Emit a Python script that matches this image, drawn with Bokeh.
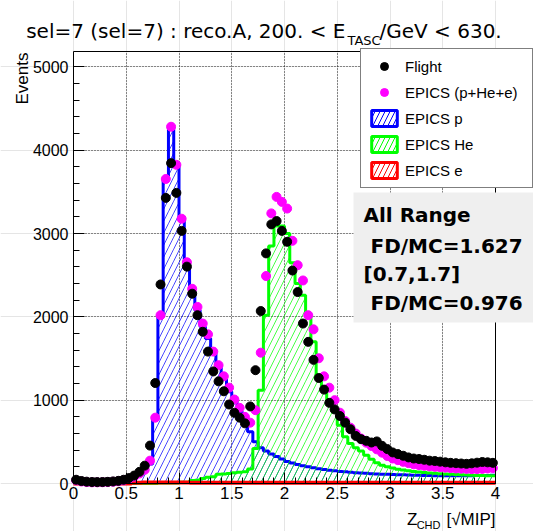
import numpy as np
from bokeh.plotting import figure
from bokeh.models import (Range1d, SingleIntervalTicker, FixedTicker, Label, BoxAnnotation,
                          Legend, LegendItem, LinearAxis, Grid)
from bokeh.embed import file_html
from bokeh.resources import INLINE

# ---------------- data ----------------
bin_width = 0.05
x_min, x_max = 0.0, 4.0
y_min, y_max = 0.0, 5185.0
edges = np.round(np.arange(x_min, x_max + bin_width / 2, bin_width), 4)
centers = (edges[:-1] + edges[1:]) / 2

flight = [45, 30, 22, 18, 17, 18, 20, 25, 32, 45,
          65, 95, 140, 214, 455, 1206, 2389, 3428, 3845, 3488,
          3032, 2603, 2278, 2020, 1821, 1583, 1345, 1226, 1107, 948,
          849, 790, 722, 925, 1360, 2070, 2762, 3110, 3150, 3032,
          2901, 2556, 2298, 1920, 1700, 1484, 1266, 1127, 968, 889,
          810, 730, 651, 571, 532, 512, 492, 505, 452, 413,
          373, 353, 333, 313, 300, 294, 285, 274, 270, 262,
          254, 248, 244, 240, 236, 242, 250, 258, 254, 248]

epics_sum = [38, 24, 17, 14, 14, 15, 17, 21, 27, 38,
             55, 82, 120, 165, 274, 790, 2020, 3655, 4282, 3825,
             3178, 2655, 2337, 2119, 1920, 1790, 1583, 1420, 1286, 1150,
             1008, 908, 800, 730, 880, 1570, 2490, 3242, 3440, 3380,
             3300, 2913, 2620, 2437, 2020, 1850, 1503, 1286, 1150, 1000,
             850, 750, 670, 600, 540, 490, 450, 410, 370, 330,
             300, 280, 260, 245, 230, 220, 212, 205, 200, 195,
             190, 185, 180, 178, 175, 172, 172, 175, 180, 185]

epics_p = [20, 14, 10, 8, 8, 9, 10, 13, 17, 25,
           40, 65, 100, 150, 234, 770, 2000, 3650, 4280, 3820,
           3170, 2640, 2310, 2080, 1880, 1740, 1560, 1420, 1250, 1100,
           990, 860, 740, 620, 500, 430, 390, 355, 325, 295,
           265, 245, 228, 212, 200, 190, 178, 168, 160, 152,
           145, 140, 135, 130, 126, 122, 118, 115, 112, 110,
           108, 106, 104, 102, 100, 98, 96, 95, 94, 93,
           92, 92, 92, 93, 93, 94, 95, 96, 97, 98]

epics_he = [0, 0, 0, 0, 0, 0, 0, 0, 0, 0,
            0, 0, 0, 0, 0, 0, 5, 5, 5, 5,
            15, 15, 36, 40, 60, 75, 80, 110, 115, 120,
            130, 135, 140, 175, 420, 1120, 2020, 2850, 3090, 3090,
            3000, 2650, 2400, 2260, 2000, 1700, 1300, 1150, 1000, 860,
            700, 560, 480, 430, 390, 340, 290, 250, 220, 200,
            185, 172, 162, 152, 145, 138, 132, 127, 122, 118,
            114, 110, 107, 104, 101, 99, 97, 95, 94, 93]

epics_e = [0, 0, 0, 0, 0, 0, 0, 0, 0, 0,
           0, 8, 10, 12, 12, 12, 12, 12, 12, 12,
           11, 11, 10, 10, 10, 10, 10, 10, 10, 10,
           10, 10, 10, 10, 10, 10, 10, 10, 10, 10,
           10, 10, 10, 10, 10, 10, 10, 10, 10, 10,
           10, 10, 10, 10, 10, 10, 10, 10, 10, 10,
           10, 10, 10, 10, 10, 10, 10, 10, 10, 10,
           10, 10, 10, 10, 10, 10, 10, 10, 10, 10]

x_tick_values = [0, 0.5, 1, 1.5, 2, 2.5, 3, 3.5, 4]
x_tick_labels = ["0", "0.5", "1", "1.5", "2", "2.5", "3", "3.5", "4"]
y_tick_step = 1000

legend_labels = ["Flight", "EPICS (p+He+e)", "EPICS p", "EPICS He", "EPICS e"]
title_main = "sel=7 (sel=7) : reco.A, 200. < E"
title_sub = "TASC"
title_tail = "/GeV < 630."
info_lines = ["All Range", "FD/MC=1.627", "[0.7,1.7]", "FD/MC=0.976"]

# ---------------- layout geometry (canvas px) ----------------
W, H = 533, 531
FL, FR, FT, FB = 73, 495, 51, 483          # plot-area edges
ppx = (FR - FL) / (x_max - x_min)
ppy = (FB - FT) / (y_max - y_min)

# the Bokeh frame spans the whole canvas so nothing gets clipped
p = figure(width=W, height=H,
           x_range=Range1d(x_min - FL / ppx, x_max + (W - FR) / ppx),
           y_range=Range1d(y_min - (H - FB) / ppy, y_max + FT / ppy),
           x_axis_location=None, y_axis_location=None,
           output_backend="svg", toolbar_location=None, title=None,
           min_border_left=0, min_border_right=0, min_border_top=0, min_border_bottom=0)
p.background_fill_color = "white"
p.border_fill_color = "white"
p.outline_line_color = None

xticker = SingleIntervalTicker(interval=0.5, num_minor_ticks=5)
yticker = SingleIntervalTicker(interval=y_tick_step, num_minor_ticks=5)

# ---- grid (dotted, limited to the plot area)
try:
    gx = Grid(dimension=0, ticker=xticker, bounds=(x_min, x_max), cross_bounds=(y_min, y_max))
    gy = Grid(dimension=1, ticker=yticker, bounds=(y_min, y_max), cross_bounds=(x_min, x_max))
    for g in (gx, gy):
        g.grid_line_color = "black"
        g.grid_line_dash = "1 2"
        g.grid_line_width = 1
        g.grid_line_alpha = 0.85
        p.add_layout(g)
except AttributeError:
    xs = [v for v in x_tick_values]
    ys = list(range(int(y_tick_step), int(y_max), int(y_tick_step)))
    p.segment(x0=xs, x1=xs, y0=y_min, y1=y_max, line_color="black", line_dash="1 2", line_alpha=0.85)
    p.segment(x0=x_min, x1=x_max, y0=ys, y1=ys, line_color="black", line_dash="1 2", line_alpha=0.85)


def hist(vals, color, lw):
    vals = np.asarray(vals, dtype=float)
    p.quad(left=edges[:-1], right=edges[1:], bottom=0, top=vals,
           fill_color=None, line_color=None,
           hatch_pattern="/", hatch_color=color, hatch_scale=12, hatch_weight=0.9, hatch_alpha=0.8)
    p.step(x=edges, y=np.append(vals, vals[-1]), mode="after",
           line_color=color, line_width=lw)
    # legend proxy (hatched box with thick border); NaN so it is never drawn in the plot
    return p.quad(left=[np.nan], right=[np.nan], bottom=[np.nan], top=[np.nan],
                  fill_color="white", line_color=color, line_width=3,
                  hatch_pattern="/", hatch_color=color, hatch_scale=10, hatch_weight=1)


r_p = hist(epics_p, "#0000ff", 3)
r_he = hist(epics_he, "#00ff00", 3)
r_e = hist(epics_e, "#ff0000", 4)

r_mc = p.scatter(x=centers, y=epics_sum, size=9, color="#ff00ff")
r_fd = p.scatter(x=centers, y=flight, size=9, color="black")

# ---- axes drawn at the plot-area edges with Bokeh's own axis model
xaxis = LinearAxis(fixed_location=y_min, bounds=(x_min, x_max), ticker=xticker)
yaxis = LinearAxis(fixed_location=x_min, bounds=(y_min, y_max), ticker=yticker)
xaxis.major_label_overrides = {float(v): t for v, t in zip(x_tick_values, x_tick_labels)}
for ax in (xaxis, yaxis):
    ax.axis_line_color = "black"
    ax.axis_line_width = 1
    ax.major_tick_line_color = "black"
    ax.minor_tick_line_color = "black"
    ax.major_tick_in = 11
    ax.major_tick_out = 0
    ax.minor_tick_in = 6
    ax.minor_tick_out = 0
    ax.major_label_text_font = "Liberation Sans"
    ax.major_label_text_color = "black"
xaxis.major_label_text_font_size = "17px"
yaxis.major_label_text_font_size = "16px"
xaxis.major_label_standoff = 3
yaxis.major_label_standoff = 5
p.add_layout(xaxis, "below")
p.add_layout(yaxis, "left")

# top / right frame edges
for loc, side, bnd in ((y_max, "above", (x_min, x_max)), (x_max, "right", (y_min, y_max))):
    fa = LinearAxis(fixed_location=loc, bounds=bnd, ticker=FixedTicker(ticks=[], minor_ticks=[]))
    fa.axis_line_color = "black"
    fa.major_label_text_alpha = 0
    p.add_layout(fa, side)

# ---- legend
legend = Legend(items=[LegendItem(label=legend_labels[0], renderers=[r_fd]),
                       LegendItem(label=legend_labels[1], renderers=[r_mc]),
                       LegendItem(label=legend_labels[2], renderers=[r_p]),
                       LegendItem(label=legend_labels[3], renderers=[r_he]),
                       LegendItem(label=legend_labels[4], renderers=[r_e])],
                location=(360, H - 188), orientation="vertical",
                glyph_width=32, glyph_height=20, label_height=20, label_standoff=5,
                label_width=120, spacing=6, padding=7, margin=0,
                border_line_color="black", border_line_width=1,
                background_fill_color="white", background_fill_alpha=1,
                label_text_font="Liberation Sans", label_text_font_size="15px",
                label_text_color="black")
p.add_layout(legend)

# ---- info box
p.add_layout(BoxAnnotation(left=353, right=W, bottom=H - 322, top=H - 192,
                           left_units="screen", right_units="screen",
                           bottom_units="screen", top_units="screen",
                           fill_color="#efefef", fill_alpha=1, line_color=None))
info_pos = [(363, 214), (370, 245), (363, 273), (370, 302)]
for txt, (cx, cy) in zip(info_lines, info_pos):
    p.add_layout(Label(x=cx, y=H - cy, x_units="screen", y_units="screen",
                       text=txt, text_font="DejaVu Sans", text_font_style="bold",
                       text_font_size="20px", text_color="black",
                       text_align="left", text_baseline="alphabetic"))


def lab(text, cx, cy, size, align="left", font="DejaVu Sans", angle=0.0):
    p.add_layout(Label(x=cx, y=H - cy, x_units="screen", y_units="screen",
                       text=text, text_font=font, text_font_size=size, angle=angle,
                       text_color="black", text_align=align, text_baseline="alphabetic"))


# title
lab(title_main, 345, 30, "20px", align="right")
lab(title_sub, 347, 40, "13px")
lab(title_tail, 379, 30, "20px")

# axis titles
lab("Events", 22, 52, "17px", align="right", font="Liberation Sans", angle=np.pi / 2)
lab("[√MIP]", 495, 519, "17px", align="right", font="Liberation Sans")
lab("CHD", 440, 524, "11px", align="right", font="Liberation Sans")
lab("Z", 417, 519, "17px", align="right", font="Liberation Sans")

open("out.html", "w").write(file_html(p, INLINE))
